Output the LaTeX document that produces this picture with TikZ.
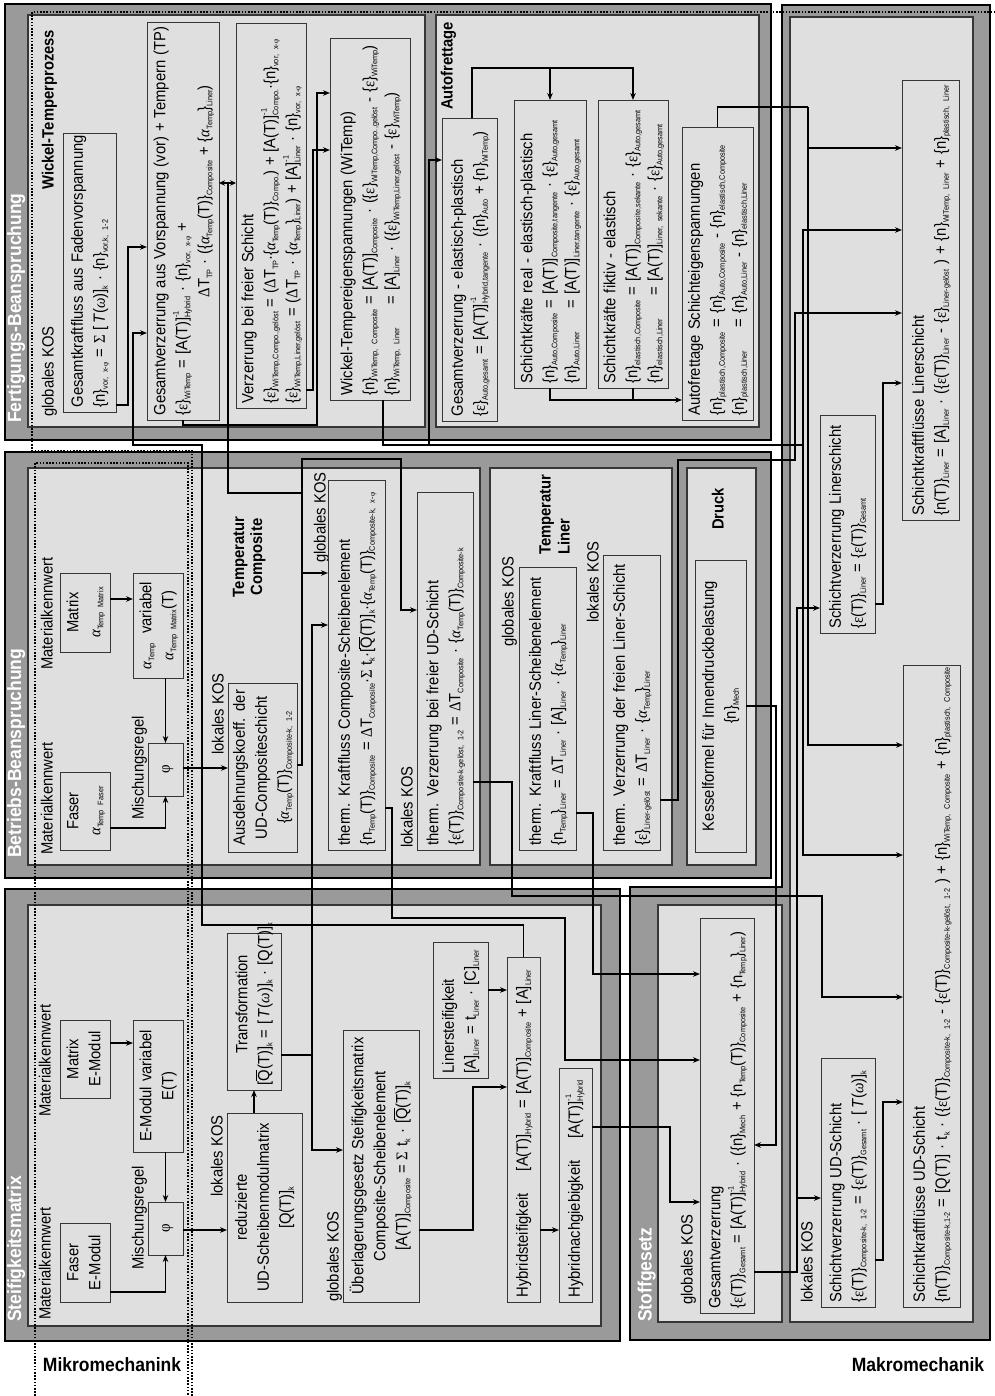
\documentclass[tikz,border=0pt]{standalone}
\usepackage{fontspec}
\setmainfont{Liberation Sans}
\newfontfamily\grk{Liberation Serif}
\usetikzlibrary{arrows.meta}
\definecolor{band}{HTML}{9A9A9A}
\definecolor{light}{HTML}{DFDFDF}
\definecolor{bline}{HTML}{363636}
\newcommand\fsz{\fontsize{14.8}{20}\selectfont}
\newcommand\sbs[1]{\smash{\raisebox{-2.6pt}{\fontsize{7.3}{8}\selectfont #1}}}
\newcommand\sps[1]{\smash{\raisebox{8pt}{\fontsize{7.3}{8}\selectfont #1}}}
\newcommand\ssp[2]{\rlap{\sps{#2}}\sbs{#1}}
\newcommand\gEps{{\grk ε}}
\newcommand\gAlp{{\grk\itshape α}}
\newcommand\gPhi{{\grk φ}}
\newcommand\gOme{{\grk\itshape ω}}
\newcommand\gSig{{\grk Σ}}
\newcommand\gDel{{\grk Δ}}
\newcommand\Qb{\ensuremath{\overline{\mbox{Q}}}}
\newcommand\Tw{[\,\textit{T}(\gOme)]}
\newcommand\TL[1]{\begin{tabular}{@{}l@{}}#1\end{tabular}}
\newcommand\TLL[1]{\begin{tabular}{@{}l@{}l@{}}#1\end{tabular}}
\newcommand\TC[1]{\begin{tabular}{@{}c@{}}#1\end{tabular}}
\newcommand\bxnode[7]{%
  \pgfmathsetmacro\bxL{#5-#4}%
  \pgfmathsetmacro\bxW{(#3-#2)/1.1}%
  \pgfmathsetmacro\bxT{#5-#4-9}%
  \pgfmathsetmacro\bxX{(#2+#3)/2}%
  \pgfmathsetmacro\bxY{(#4+#5)/2}%
  \node[bx, minimum width=\bxL pt, minimum height=\bxW pt, text width=\bxT pt, #6] (#1) at (\bxX,\bxY) {#7};}
\begin{document}
\begin{tikzpicture}[x=1pt,y=-1pt,
  frame/.style={fill=band, draw=black, line width=2.6pt},
  cont/.style={fill=light, draw=bline, line width=1.1pt},
  bx/.style={draw=bline, fill=light, line width=0.9pt, rotate=90, yscale=1.1, inner xsep=4.5pt, inner ysep=0pt, outer sep=0pt, font=\fsz, align=left},
  lb/.style={rotate=90, yscale=1.1, anchor=base west, inner sep=0pt, font=\fsz},
  blb/.style={lb, font=\fsz\bfseries},
  flb/.style={lb, font=\fontsize{17.5}{20}\selectfont\bfseries, text=white},
  hlb/.style={yscale=1.1, inner sep=0pt, font=\fontsize{17.5}{20}\selectfont\bfseries},
  dots/.style={line width=1.8pt, dash pattern=on 1.6pt off 1.6pt},
  cn0/.style={draw=black, line width=1.2pt},
  cn/.style={cn0, -{Stealth[length=7pt,width=5.5pt]}},
  cn2/.style={cn0, {Stealth[length=6pt,width=5.5pt]}-{Stealth[length=6pt,width=5.5pt]}}
]
\useasboundingbox (0,0) rectangle (994,1396);
\fill[white] (0,0) rectangle (994,1396);
% ---------- frames ----------
\draw[frame] (5,4) rectangle (771,440);
\draw[frame] (5,452) rectangle (771,878);
\draw[frame] (5,889) rectangle (620,1341);
\draw[frame] (782,5) -- (990,5) -- (990,1340) -- (630,1340) -- (630,887) -- (782,887) -- cycle;
% ---------- containers ----------
\draw[cont] (28,15) rectangle (425,427);
\draw[cont] (436,15) rectangle (759,427);
\draw[cont] (28,468) rectangle (480,865);
\draw[cont] (490,468) rectangle (672,865);
\draw[cont] (687,468) rectangle (756,865);
\draw[cont] (28,905) rectangle (601,1326);
\draw[cont] (658,905) rectangle (782,1322);
\draw[cont] (790,17) rectangle (973,1322);
% ---------- dotted regions ----------
\draw[dots] (192,1396) -- (192,451) -- (32,451) -- (32,12) -- (994,12);
\draw[dots] (35,1396) -- (35,463) -- (188,463) -- (188,1396);
% ---------- frame labels ----------
\node[flb] (tFB) at (21,423) {Fertigungs-Beanspruchung};
\node[flb] (tBB) at (21,858) {Betriebs-Beanspruchung};
\node[flb] (tSM) at (21,1322) {Steifigkeitsmatrix};
\node[flb] (tSG) at (651.5,1322) {Stoffgesetz};
\node[hlb] (mik) at (112,1365) {Mikromechanink};
\node[hlb] (mak) at (918,1365) {Makromechanik};
% ---------- Fertigungs ----------
\node[lb] (gk1) at (53.6,417) {globales KOS};
\node[blb] (wtp) at (53.6,190) {Wickel-Temperprozess};
\bxnode{F1}{63}{116}{133}{412}{}{\TL{Gesamtkraftfluss aus Fadenvorspannung\\
 \{n\}\sbs{vor, x-\gPhi} = \gSig\ \Tw\sbs{k} · \{n\}\sbs{vor,k, 1-2}}}
\bxnode{F2}{147}{219}{22}{420}{}{\TL{Gesamtverzerrung aus Vorspannung (vor) + Tempern (TP)\\
 \{\gEps\}\sbs{WiTemp} = [A(T)]\ssp{Hybrid}{-1} · \{n\}\sbs{vor, x-\gPhi} +\\
 \hspace*{118pt}\gDel T\sbs{TP} · (\{\gAlp\sbs{Temp}(T)\}\sbs{Composite} + \{\gAlp\sbs{Temp}\}\sbs{Liner})}}
\bxnode{F3}{236}{306}{23}{408}{}{\TL{Verzerrung bei freier Schicht\\
 \{\gEps\}\sbs{WiTemp,Compo.,gelöst} = (\gDel T\sbs{TP}·\{\gAlp\sbs{Temp}(T)\}\sbs{Compo.}) + [A(T)]\ssp{Compo.}{-1}·\{n\}\sbs{vor, x-\gPhi}\\
 \{\gEps\}\sbs{WiTemp,Liner,gelöst} = (\gDel T\sbs{TP} · \{\gAlp\sbs{Temp}\}\sbs{Liner}) + [A]\ssp{Liner}{-1} · \{n\}\sbs{vor, x-\gPhi}}}
\bxnode{F4}{330}{410}{38}{400}{}{\TLL{\multicolumn{2}{@{}l@{}}{Wickel-Tempereigenspannungen (WiTemp)}\\
 \{n\}\sbs{WiTemp, Composite} & \ = [A(T)]\sbs{Composite} · (\{\gEps\}\sbs{WiTemp,Compo.,gelöst} - \{\gEps\}\sbs{WiTemp})\\
 \{n\}\sbs{WiTemp, Liner} & \ = [A]\sbs{Liner} · (\{\gEps\}\sbs{WiTemp,Liner,gelöst} - \{\gEps\}\sbs{WiTemp})}}
\node[blb] (afr) at (452.6,110) {Autofrettage};
\bxnode{AG}{442}{497}{118}{421}{}{\TL{Gesamtverzerrung - elastisch-plastisch\\
 \{\gEps\}\sbs{Auto,gesamt} = [A(T)]\ssp{Hybrid,tangente}{-1} · (\{n\}\sbs{Auto} + \{n\}\sbs{WiTemp})}}
\bxnode{AR}{514}{586}{100}{388}{}{\TLL{\multicolumn{2}{@{}l@{}}{Schichtkräfte real - elastisch-plastisch}\\
 \{n\}\sbs{Auto,Composite} & \ = [A(T)]\sbs{Composite,tangente} · \{\gEps\}\sbs{Auto,gesamt}\\
 \{n\}\sbs{Auto,Liner} & \ = [A(T)]\sbs{Liner,tangente} · \{\gEps\}\sbs{Auto,gesamt}}}
\bxnode{AF}{598}{668}{100}{388}{}{\TLL{\multicolumn{2}{@{}l@{}}{Schichtkräfte fiktiv - elastisch}\\
 \{n\}\sbs{elastisch,Composite} & \ = [A(T)]\sbs{Composite,sekante} · \{\gEps\}\sbs{Auto,gesamt}\\
 \{n\}\sbs{elastisch,Liner} & \ = [A(T)]\sbs{Liner, sekante} · \{\gEps\}\sbs{Auto,gesamt}}}
\bxnode{AS}{682}{753}{127}{420}{}{\TLL{\multicolumn{2}{@{}l@{}}{Autofrettage Schichteigenspannungen}\\
 \{n\}\sbs{plastisch,Composite} & \ = \{n\}\sbs{Auto,Composite} - \{n\}\sbs{elastisch,Composite}\\
 \{n\}\sbs{plastisch,Liner} & \ = \{n\}\sbs{Auto,Liner} - \{n\}\sbs{elastisch,Liner}}}
% ---------- Makromechanik / Stoffgesetz ----------
\bxnode{LS}{902}{959}{80}{520}{}{\TL{Schichtkraftflüsse Linerschicht\\
 \{n(T)\}\sbs{Liner} = [A]\sbs{Liner} · (\{\gEps(T)\}\sbs{Liner} - \{\gEps\}\sbs{Liner-gelöst} ) + \{n\}\sbs{WiTemp, Liner} + \{n\}\sbs{plastisch, Liner}}}
\bxnode{LV}{820}{875}{415}{633}{}{\TL{Schichtverzerrung Linerschicht\\
 \{\gEps(T)\}\sbs{Liner} = \{\gEps(T)\}\sbs{Gesamt}}}
\bxnode{UK}{903}{960}{665}{1307}{}{\TL{Schichtkraftflüsse UD-Schicht\\
 \{n(T)\}\sbs{Composite-k,1-2} = [Q(T)] · t\sbs{k} · (\{\gEps(T)\}\sbs{Composite-k, 1-2} - \{\gEps(T)\}\sbs{Composite-k-gelöst, 1-2} ) + \{n\}\sbs{WiTemp, Composite} + \{n\}\sbs{plastisch, Composite}}}
\bxnode{UV}{821}{875}{1058}{1307}{}{\TL{Schichtverzerrung UD-Schicht\\
 \{\gEps(T)\}\sbs{Composite-k, 1-2} = \{\gEps(T)\}\sbs{Gesamt} · \Tw\sbs{k}}}
\node[lb] (lk5) at (812.6,1303) {lokales KOS};
\node[lb] (gk5) at (692.6,1305) {globales KOS};
\bxnode{GV}{700}{754}{918}{1313}{}{\TL{Gesamtverzerrung\\
 \{\gEps(T)\}\sbs{Gesamt} = [A(T)]\ssp{Hybrid}{-1} · (\{n\}\sbs{Mech} + \{n\sbs{Temp}(T)\}\sbs{Composite} + \{n\sbs{Temp}\}\sbs{Liner})}}
% ---------- Betriebs ----------
\node[lb] (mk1) at (52.6,855) {Materialkennwert};
\node[lb] (mk2) at (52.6,670) {Materialkennwert};
\node[lb] (mr1) at (143.6,820) {Mischungsregel};
\node[lb] (lk1) at (223.6,755) {lokales KOS};
\node[blb, anchor=base] (tc1) at (244,557) {Temperatur};
\node[blb, anchor=base] (tc2) at (262,557) {Composite};
\node[lb] (gk2) at (325.6,563) {globales KOS};
\node[lb] (lk2) at (412.6,848) {lokales KOS};
\node[lb] (gk3) at (513.6,647) {globales KOS};
\node[blb] (tl1) at (550.6,555) {Temperatur};
\node[blb] (tl2) at (569.6,555) {Liner};
\node[lb] (lk3) at (598.6,623) {lokales KOS};
\node[blb] (dru) at (723.6,530) {Druck};
\bxnode{BFa}{60}{110}{772}{850}{align=center}{\TC{Faser\\ \gAlp\sbs{Temp Faser}}}
\bxnode{BMa}{60}{110}{573}{652}{align=center}{\TC{Matrix\\ \gAlp\sbs{Temp Matrix}}}
\bxnode{BVa}{133}{183}{573}{678}{align=center}{\TC{\gAlp\sbs{Temp}\ \ variabel\\ \gAlp\sbs{Temp Matrix}(T)}}
\bxnode{Bphi}{148}{183}{743}{796}{align=center}{\TC{\gPhi}}
\bxnode{BAu}{228}{297}{683}{852}{align=center}{\TC{Ausdehnungskoeff. der\\ UD-Compositeschicht\\ \{\gAlp\sbs{Temp}(T)\}\sbs{Composite-k, 1-2}}}
\bxnode{BKC}{328}{385}{480}{850}{}{\TL{therm. Kraftfluss Composite-Scheibenelement\\
 \{n\sbs{Temp}(T)\}\sbs{Composite} = \gDel T\sbs{Composite}·\gSig\ t\sbs{k}·[\Qb(T)]\sbs{k}·\{\gAlp\sbs{Temp}(T)\}\sbs{Composite-k, x-\gPhi}}}
\bxnode{BVC}{417}{473}{492}{850}{}{\TL{therm. Verzerrung bei freier UD-Schicht\\
 \{\gEps(T)\}\sbs{Composite-k-gelöst, 1-2} = \gDel T\sbs{Composite} · \{\gAlp\sbs{Temp}(T)\}\sbs{Composite-k}}}
\bxnode{BKL}{519}{576}{567}{850}{}{\TL{therm. Kraftfluss Liner-Scheibenelement\\
 \{n\sbs{Temp}\}\sbs{Liner} = \gDel T\sbs{Liner} · [A]\sbs{Liner} · \{\gAlp\sbs{Temp}\}\sbs{Liner}}}
\bxnode{BVL}{603}{660}{555}{850}{}{\TL{therm. Verzerrung der freien Liner-Schicht\\
 \{\gEps\}\sbs{Liner-gelöst} = \gDel T\sbs{Liner} · \{\gAlp\sbs{Temp}\}\sbs{Liner}}}
\bxnode{BKe}{695}{746}{560}{852}{align=center}{\TC{Kesselformel für Innendruckbelastung\\ \{n\}\sbs{Mech}}}
% ---------- Steifigkeitsmatrix ----------
\node[lb] (mk3) at (50.6,1320) {Materialkennwert};
\node[lb] (mk4) at (50.6,1117) {Materialkennwert};
\node[lb] (mr2) at (143.6,1270) {Mischungsregel};
\node[lb] (lk4) at (222.6,1197) {lokales KOS};
\node[lb] (gk4) at (338.6,1302) {globales KOS};
\bxnode{SFa}{60}{110}{1223}{1302}{align=center}{\TC{Faser\\ E-Modul}}
\bxnode{SMa}{60}{110}{1020}{1098}{align=center}{\TC{Matrix\\ E-Modul}}
\bxnode{SVa}{133}{183}{1020}{1152}{align=center}{\TC{E-Modul variabel\\ E(T)}}
\bxnode{Sphi}{148}{183}{1202}{1255}{align=center}{\TC{\gPhi}}
\bxnode{SRe}{227}{302}{1113}{1302}{align=center}{\TC{reduzierte\\ UD-Scheibenmodulmatrix\\ {}[Q(T)]\sbs{k}}}
\bxnode{STr}{227}{281}{933}{1090}{align=center}{\TC{Transformation\\ {}[\Qb(T)]\sbs{k} = \Tw\sbs{k} · [Q(T)]\sbs{k}}}
\bxnode{SUe}{343}{419}{1030}{1302}{align=center}{\TC{Überlagerungsgesetz Steifigkeitsmatrix\\ Composite-Scheibenelement\\ {}[A(T)]\sbs{Composite} = \gSig\ t\sbs{k} · [\Qb(T)]\sbs{k}}}
\bxnode{SLi}{433}{488}{942}{1078}{}{\TL{Linersteifigkeit\\ {}[A]\sbs{Liner} = t\sbs{Liner} · [C]\sbs{Liner}}}
\bxnode{SHy}{507}{540}{957}{1302}{}{\TL{Hybridsteifigkeit\hspace{22pt}[A(T)]\sbs{Hybrid} = [A(T)]\sbs{Composite} + [A]\sbs{Liner}}}
\bxnode{SHn}{559}{592}{1068}{1302}{}{\TL{Hybridnachgiebigkeit\hspace{22pt}[A(T)]\ssp{Hybrid}{-1}}}
% ---------- junction coordinates ----------
\coordinate (j3a) at (302,573);
\coordinate (j3b) at (302,493);
\coordinate (j3c) at (228,183);
\coordinate (j6) at (803,445);
\coordinate (j6b) at (429,445);
\coordinate (j7) at (550,68);
\coordinate (j9) at (808,107);
\coordinate (j12) at (797,1198);
\coordinate (j19) at (312,1055);
% ---------- connectors ----------
\draw[cn] (F1.south |- 0,405) -| (128,247) -- (F2.north |- 0,247);
\draw[cn] (SHy.east) |- (202,925) |- (133,445) |- (F2.north |- 0,333);
\draw[cn] (BAu.south |- 0,765) -| (302,459) -| (401,610) -- (BVC.north |- 0,610);
\draw[cn] (j3a) -- (BKC.north |- 0,573);
\draw[cn0] (j3c) |- (j3b);
\draw[cn2] (F2.south |- 0,183) -- (F3.north |- 0,183);
\draw[cn] (F2.west) |- (317,425) |- (F4.north |- 0,93);
\draw[cn] (F3.south |- 0,390) -| (313,150) -- (F4.north |- 0,150);
\draw[cn0] (383,0 |- F4.west) |- (j6);
\draw[cn] (j6b) |- (AG.north |- 0,160);
\draw[cn] (j6) |- (LS.north |- 0,230);
\draw[cn] (j6) |- (UK.north |- 0,855);
\draw[cn] (472,0 |- AG.east) |- (633,68) -- (AF.east);
\draw[cn] (j7) -- (AR.east);
\draw[cn] (AR.west) |- (AS.north |- 0,400);
\draw[cn0] (AF.west) -- (AF.west |- 0,400);
\draw[cn0] (AS.east) |- (j9);
\draw[cn] (j9) |- (LS.north |- 0,148);
\draw[cn] (j9) |- (UK.north |- 0,745);
\draw[cn] (BVL.south |- 0,800) -| (678,460) -| (795,313) -- (LS.north |- 0,313);
\draw[cn] (LV.south |- 0,604) -| (883,383) -- (LS.north |- 0,383);
\draw[cn] (GV.south |- 0,1272) -| (797,608) -- (LV.north |- 0,608);
\draw[cn] (j12) -- (UV.north |- 0,1198);
\draw[cn] (UV.south |- 0,1260) -| (883,1102) -- (UK.north |- 0,1102);
\draw[cn] (BVC.south |- 0,782) -| (512,896) -| (822,997) -- (UK.north |- 0,997);
\draw[cn] (BKC.south |- 0,808) -| (392,918) -| (565,1060) -- (GV.north |- 0,1060);
\draw[cn] (BKL.south |- 0,813) -| (593,974) -- (GV.north |- 0,974);
\draw[cn] (BKe.south |- 0,706) -| (776,1145) -- (GV.south |- 0,1145);
\draw[cn] (SHn.south |- 0,1127) -| (670,1202) -- (GV.north |- 0,1202);
\draw[cn] (STr.south |- 0,1055) -| (312,625) -- (BKC.north |- 0,625);
\draw[cn] (j19) |- (SUe.north |- 0,1150);
\draw[cn] (SUe.south |- 0,1230) -| (473,1087) -- (SHy.north |- 0,1087);
\draw[cn] (SLi.south |- 0,990) -- (SHy.north |- 0,990);
\draw[cn] (SHy.south |- 0,1230) -- (SHn.north |- 0,1230);
\draw[cn] (STr.west |- SRe.east) -- (STr.west);
\draw[cn] (Sphi.south |- 0,1230) -- (SRe.north |- 0,1230);
\draw[cn] (SFa.south |- 0,1292) -| (Sphi.west);
\draw[cn] (SMa.south |- 0,1043) -- (SVa.north |- 0,1043);
\draw[cn] (Sphi.east |- SVa.west) -- (Sphi.east);
\draw[cn] (BFa.south |- 0,828) -| (Bphi.west);
\draw[cn] (BMa.south |- 0,599) -- (BVa.north |- 0,599);
\draw[cn] (Bphi.east |- BVa.west) -- (Bphi.east);
\draw[cn] (Bphi.south |- 0,768) -- (BAu.north |- 0,768);
\end{tikzpicture}
\end{document}
